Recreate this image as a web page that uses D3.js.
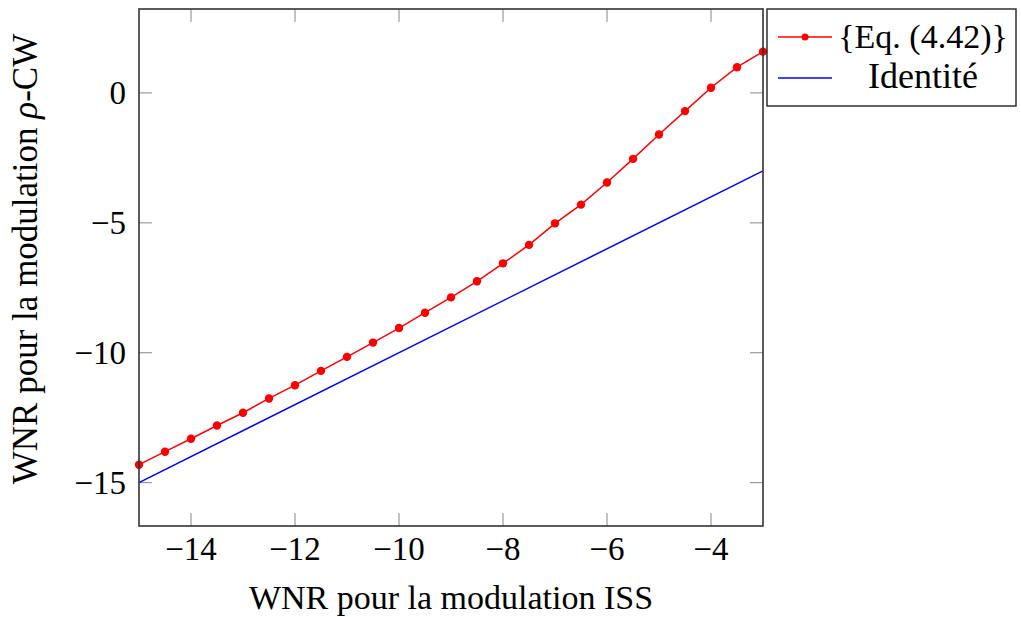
<!DOCTYPE html>
<html><head><meta charset="utf-8">
<script src="https://cdn.jsdelivr.net/npm/d3@7"></script>
<style>
body{margin:0;background:#fff}
svg text{font-family:"Liberation Serif","Times New Roman",Times,serif;fill:#000}
</style>
</head><body>
<svg id="c" width="1021" height="617"></svg>
<script>
const xValues = [-15,-14.5,-14,-13.5,-13,-12.5,-12,-11.5,-11,-10.5,-10,-9.5,-9,-8.5,-8,-7.5,-7,-6.5,-6,-5.5,-5,-4.5,-4,-3.5,-3];
const eqValues = [-14.31,-13.81,-13.31,-12.80,-12.31,-11.76,-11.25,-10.70,-10.16,-9.61,-9.05,-8.46,-7.87,-7.25,-6.56,-5.85,-5.02,-4.30,-3.45,-2.54,-1.60,-0.70,0.20,0.99,1.59];
const identityX = [-15,-3];
const xTicks = [-14,-12,-10,-8,-6,-4];
const yTicks = [0,-5,-10,-15];
const seriesNames = ["{Eq. (4.42)}","Identité"];

const svg = d3.select("#c");
const L=139,R=763,T=9,B=526;
const x = d3.scaleLinear().domain([-15,-3]).range([L,R]);
const y = d3.scaleLinear().domain([-16.67,3.23]).range([B,T]);
const fmt = d => (d<0?"\u2212":"")+Math.abs(d);
const tickLen = 13;

// ticks (inside, all four sides)
const tg = svg.append("g").attr("stroke","#9a9a9a").attr("stroke-width",1.2);
xTicks.forEach(t=>{
  tg.append("line").attr("x1",x(t)).attr("x2",x(t)).attr("y1",B).attr("y2",B-tickLen);
  tg.append("line").attr("x1",x(t)).attr("x2",x(t)).attr("y1",T).attr("y2",T+tickLen);
});
yTicks.forEach(t=>{
  tg.append("line").attr("y1",y(t)).attr("y2",y(t)).attr("x1",L).attr("x2",L+tickLen);
  tg.append("line").attr("y1",y(t)).attr("y2",y(t)).attr("x1",R).attr("x2",R-tickLen);
});

// identity line
svg.append("line").attr("x1",x(identityX[0])).attr("y1",y(identityX[0]))
  .attr("x2",x(identityX[1])).attr("y2",y(identityX[1]))
  .attr("stroke","#0000ff").attr("stroke-width",1.5);

// eq line + markers
const pts = xValues.map((v,i)=>[v,eqValues[i]]);
svg.append("path").datum(pts)
  .attr("d",d3.line().x(d=>x(d[0])).y(d=>y(d[1])))
  .attr("fill","none").attr("stroke","#ff0000").attr("stroke-width",1.5);
svg.append("g").selectAll("circle").data(pts).join("circle")
  .attr("cx",d=>x(d[0])).attr("cy",d=>y(d[1])).attr("r",4.2).attr("fill","#ff0000");

// frame
svg.append("rect").attr("x",L).attr("y",T).attr("width",R-L).attr("height",B-T)
  .attr("fill","none").attr("stroke","#333").attr("stroke-width",1.6);

// tick labels
svg.append("g").selectAll("text").data(xTicks).join("text")
  .attr("x",d=>x(d)).attr("y",560).attr("text-anchor","middle")
  .attr("font-size",33).text(fmt);
svg.append("g").selectAll("text").data(yTicks).join("text")
  .attr("x",126).attr("y",d=>y(d)+11).attr("text-anchor","end")
  .attr("font-size",33).text(fmt);

// axis labels
svg.append("text").attr("x",(L+R)/2).attr("y",609).attr("text-anchor","middle")
  .attr("font-size",34).text("WNR pour la modulation ISS");
const yl = svg.append("text").attr("transform","translate(37,259) rotate(-90)").attr("text-anchor","middle")
  .attr("font-size",35);
yl.append("tspan").text("WNR pour la modulation ");
yl.append("tspan").attr("font-style","italic").text("\u03C1");
yl.append("tspan").text("-CW");

// legend
const lg = svg.append("g");
lg.append("rect").attr("x",767).attr("y",9).attr("width",249).attr("height",97)
  .attr("fill","#fff").attr("stroke","#222").attr("stroke-width",1.4);
lg.append("line").attr("x1",778).attr("x2",832).attr("y1",37).attr("y2",37).attr("stroke","#ff0000").attr("stroke-width",1.5);
lg.append("circle").attr("cx",805).attr("cy",37).attr("r",3.5).attr("fill","#ff0000");
lg.append("line").attr("x1",778).attr("x2",832).attr("y1",78).attr("y2",78).attr("stroke","#0000ff").attr("stroke-width",1.5);
lg.selectAll("text.l").data(seriesNames).join("text").attr("class","l")
  .attr("x",923).attr("y",(d,i)=>i===0?48:88).attr("text-anchor","middle")
  .attr("font-size",d=>d==="Identité"?36:34).text(d=>d);
</script>
</body></html>
